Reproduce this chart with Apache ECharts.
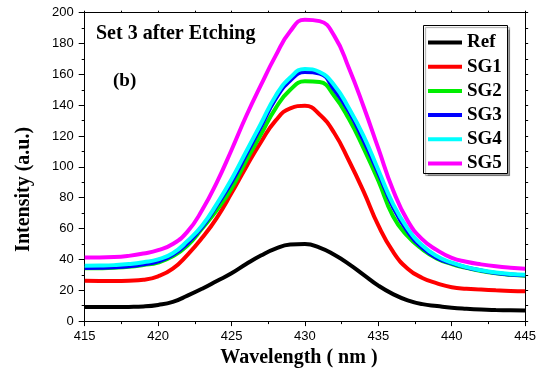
<!DOCTYPE html>
<html>
<head>
<meta charset="utf-8">
<script src="https://cdn.jsdelivr.net/npm/echarts@6/dist/echarts.min.js"></script>
<style>
html, body { margin: 0; padding: 0; background: #fff; }
#chart { width: 539px; height: 373px; }
</style>
</head>
<body>
<div id="chart"></div>
<script>
// wavelength (nm) and intensities
var wavelength = [415,416,417,418,419,420,421,422,423,424,425,426,427,428,429,430,431,432,433,434,435,436,437,438,439,440,441,442,443,444,445];
var ref = [9.1,9.1,9.1,9.2,9.5,10.5,12.5,16.5,21,26,31,37,42.5,47,49.6,50,47.7,43,37,30,23,17.5,13.5,11,9.8,8.7,8,7.5,7.2,7,6.8];
var sg1 = [26.1,26,26,26.2,26.8,29,34,43,54,67,83,100,116,130,138,139.6,134,122,104,84,62,45,34,28,24.5,22,21,20.5,20,19.6,19.4];
var sg2 = [34.2,34.3,34.6,35.2,36.4,38,42,49,60,72,86,104,121,138,150,155.5,155,146,131,112,91,68,55,46.5,40.5,37,34.5,32.5,31,30,29.4];
var sg3 = [34.5,34.6,34.9,35.5,36.8,38.8,43,50.5,61,75,90,108,126,144,156,161.5,160.5,150,136,117,96,74,58,47.5,41,37.5,34.8,32.8,31.2,30.2,29.7];
var sg4 = [35.9,36,36.3,37,38.2,40,44,52,62,76,92,110,128,146,158,163.5,161.5,153,138,120,98,76,60,49,42,38,35,33,31.5,30.5,30];
var sg5 = [41.3,41.3,41.5,42.3,43.8,46,50,58,72,90,111,133,153,172,188,195.5,194.5,185,164,139,112,85,65,53,46,41,38.5,36.8,35.5,34.6,34];

var names = ['Ref', 'SG1', 'SG2', 'SG3', 'SG4', 'SG5'];
var colors = ['#000000', '#ff0000', '#00ee00', '#0000ff', '#00ffff', '#ff00ff'];
var values = [ref, sg1, sg2, sg3, sg4, sg5];

var serif = '"Liberation Serif", "Times New Roman", serif';
var sans = '"Liberation Sans", Arial, sans-serif';

function pairs(ys) {
	return wavelength.map(function (w, i) { return [w, ys[i]]; });
}

var myChart = echarts.init(document.getElementById('chart'), null, { renderer: 'canvas' });

var axisLine = { onZero: false, lineStyle: { color: '#000', width: 1 } };

option = {
	backgroundColor: '#fff',
	animation: false,
	title: [{
		text: 'Set 3 after Etching',
		left: 96, top: 24, padding: 0,
		textStyle: { fontFamily: serif, fontWeight: 'bold', fontSize: 20, color: '#000' }
	}, {
		text: '(b)',
		left: 113, top: 72, padding: 0,
		textStyle: { fontFamily: serif, fontWeight: 'bold', fontSize: 19, color: '#000' }
	}],
	// legend frame with its grey drop shadow
	graphic: [{
		type: 'rect',
		z: 3,
		shape: { x: 423.5, y: 25.5, width: 84, height: 148 },
		style: {
			fill: '#fff', stroke: '#000', lineWidth: 1,
			shadowColor: 'rgba(0,0,0,0.35)', shadowBlur: 1, shadowOffsetX: 2, shadowOffsetY: 2
		}
	}],
	legend: {
		orient: 'vertical',
		left: 423, top: 25,
		padding: [8, 5, 0, 5],
		itemGap: 5.2,
		itemWidth: 34,
		itemHeight: 4,
		icon: 'rect',
		borderWidth: 0,
		z: 5,
		data: names,
		textStyle: { fontFamily: serif, fontWeight: 'bold', fontSize: 19, lineHeight: 19, color: '#000' }
	},
	grid: { left: 84.7, right: 13.7, top: 12.7, bottom: 39, containLabel: false },
	xAxis: [{
		type: 'value', min: 415, max: 445, interval: 5, position: 'bottom',
		axisLine: axisLine,
		axisTick: { show: true, inside: false, length: 5, lineStyle: { color: '#000' } },
		minorTick: { show: true, splitNumber: 2, length: 3, lineStyle: { color: '#000' } },
		splitLine: { show: false },
		axisLabel: { fontFamily: sans, fontSize: 13, color: '#000', margin: 9 },
		name: 'Wavelength ( nm )',
		nameLocation: 'middle',
		nameGap: 15,
		nameTextStyle: { fontFamily: serif, fontWeight: 'bold', fontSize: 20, color: '#000', padding: [0, 12, 0, 0] }
	}, {
		type: 'value', min: 415, max: 445, interval: 5, position: 'top',
		axisLine: axisLine,
		axisTick: { show: true, inside: false, length: 2, lineStyle: { color: '#000' } },
		minorTick: { show: true, splitNumber: 2, length: 2, lineStyle: { color: '#000' } },
		splitLine: { show: false },
		axisLabel: { show: false }
	}],
	yAxis: [{
		type: 'value', min: 0, max: 200, interval: 20, position: 'left',
		axisLine: axisLine,
		axisTick: { show: true, inside: false, length: 6, lineStyle: { color: '#000' } },
		minorTick: { show: true, splitNumber: 2, length: 3, lineStyle: { color: '#000' } },
		splitLine: { show: false },
		axisLabel: { fontFamily: sans, fontSize: 13, color: '#000', margin: 11 },
		name: 'Intensity (a.u.)',
		nameLocation: 'middle',
		nameGap: 51,
		nameTextStyle: { fontFamily: serif, fontWeight: 'bold', fontSize: 20, color: '#000', padding: [0, 45, 0, 0] }
	}, {
		type: 'value', min: 0, max: 200, interval: 20, position: 'right',
		axisLine: axisLine,
		axisTick: { show: true, inside: false, length: 3, lineStyle: { color: '#000' } },
		minorTick: { show: true, splitNumber: 2, length: 3, lineStyle: { color: '#000' } },
		splitLine: { show: false },
		axisLabel: { show: false }
	}],
	series: names.map(function (n, k) {
		return {
			name: n,
			type: 'line',
			xAxisIndex: 0,
			yAxisIndex: 0,
			smooth: 0.5,
			showSymbol: false,
			symbol: 'none',
			color: colors[k],
			lineStyle: { width: 4, color: colors[k] },
			data: pairs(values[k])
		};
	})
};

myChart.setOption(option);
</script>
</body>
</html>
